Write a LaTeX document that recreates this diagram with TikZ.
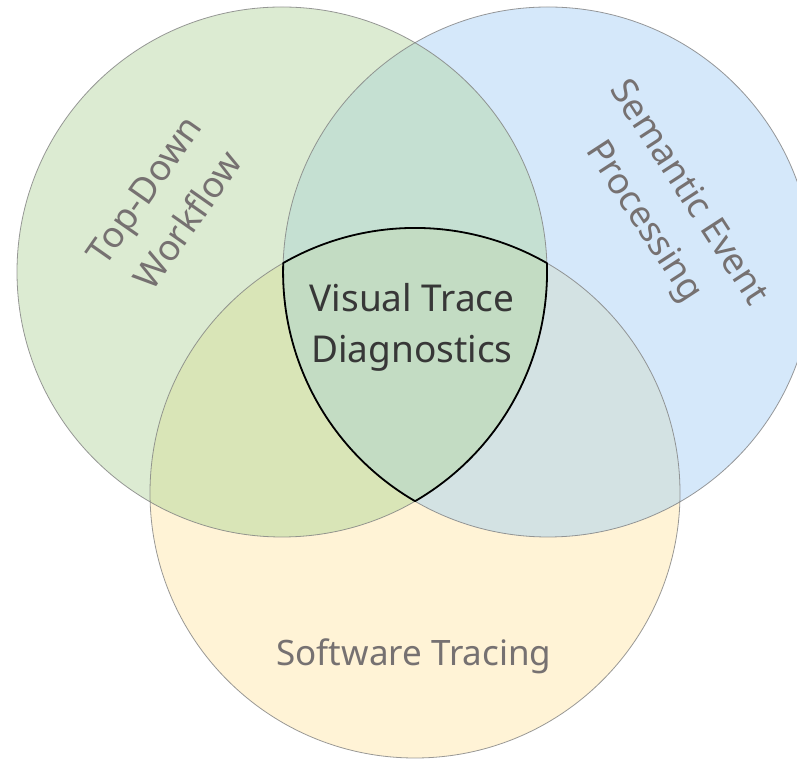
\documentclass[tikz,border=0pt]{standalone}
\usepackage{fontspec}
\setmainfont{Noto Sans}
\begin{document}
\begin{tikzpicture}[x=1pt,y=1pt]
  % region colours
  \definecolor{gonly}{RGB}{220,235,210}
  \definecolor{bonly}{RGB}{213,232,250}
  \definecolor{yonly}{RGB}{255,243,214}
  \definecolor{gb}{RGB}{197,224,210}
  \definecolor{gy}{RGB}{217,229,183}
  \definecolor{by}{RGB}{211,226,227}
  \definecolor{gby}{RGB}{195,220,195}
  \definecolor{labelgray}{RGB}{118,113,113}
  \definecolor{coretext}{RGB}{55,55,55}
  \tikzset{
    rim/.style={draw=black!50, draw opacity=0.8, line width=0.8pt},
    setlabel/.style={text=labelgray, font=\fontsize{35}{50}\selectfont, align=center, inner sep=0pt},
    tiltlabel/.style={setlabel, font=\fontsize{36}{53}\selectfont},
    corelabel/.style={text=coretext, font=\fontsize{37}{51}\selectfont, align=center, inner sep=0pt}
  }
  \useasboundingbox (0,0) rectangle (797,759);
  \clip (0,0) rectangle (797,759);

  % circle centres
  \coordinate (G) at (282,487);
  \coordinate (B) at (548,487);
  \coordinate (Y) at (415,266);
  \def\R{265pt}

  % single-set areas
  \fill[yonly] (Y) circle[radius=\R];
  \fill[bonly] (B) circle[radius=\R];
  \fill[gonly] (G) circle[radius=\R];
  % pairwise overlaps
  \begin{scope}\clip (G) circle[radius=\R]; \fill[gb] (B) circle[radius=\R];\end{scope}
  \begin{scope}\clip (G) circle[radius=\R]; \fill[gy] (Y) circle[radius=\R];\end{scope}
  \begin{scope}\clip (B) circle[radius=\R]; \fill[by] (Y) circle[radius=\R];\end{scope}
  % triple overlap
  \begin{scope}
    \clip (G) circle[radius=\R];
    \clip (B) circle[radius=\R];
    \fill[gby] (Y) circle[radius=\R];
  \end{scope}

  % circle rims
  \draw[rim] (Y) circle[radius=\R];
  \draw[rim] (B) circle[radius=\R];
  \draw[rim] (G) circle[radius=\R];

  % outline of the common region
  \coordinate (P1) at (283.1,495.9);
  \coordinate (P2) at (546.9,495.9);
  \coordinate (P3) at (415,257.8);
  \draw[black, line width=1.8pt, line join=round]
    (P1) arc[start angle=119.85, end angle=60.15, radius=\R]
         arc[start angle=1.92, end angle=-59.87, radius=\R]
         arc[start angle=239.87, end angle=178.08, radius=\R] -- cycle;

  % labels
  \node[tiltlabel, rotate=55] (topdown) at (166,554) {Top-Down\\Workflow};
  \node[tiltlabel, rotate=-57] (semantic) at (665,551) {Semantic Event\\Processing};
  \node[setlabel] (software) at (414,103) {Software Tracing};
  \node[corelabel] (visual) at (412,432) {Visual Trace\\Diagnostics};
\end{tikzpicture}
\end{document}
